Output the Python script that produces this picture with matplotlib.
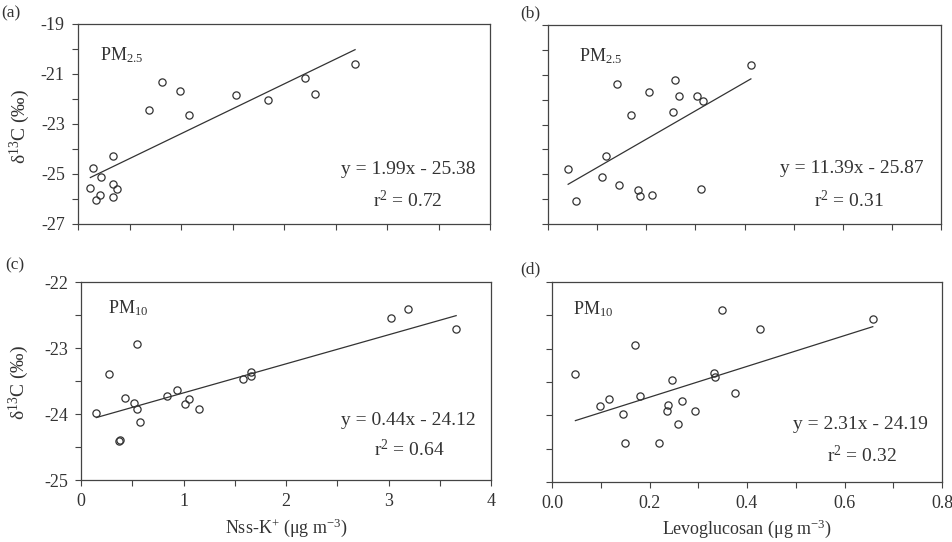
import numpy as np
import matplotlib
matplotlib.use("Agg")
import matplotlib.pyplot as plt
from matplotlib.ticker import FixedLocator, MultipleLocator, FormatStrFormatter, NullFormatter

plt.rcParams['font.family'] = ['Liberation Serif', 'DejaVu Serif']
plt.rcParams['mathtext.default'] = 'regular'
plt.rcParams['axes.unicode_minus'] = False

INK = '#333333'

# (a) PM2.5 vs nss-K+
a_x = [0.12, 0.15, 0.17, 0.21, 0.22, 0.34, 0.34, 0.34, 0.38, 0.69, 0.82, 0.99, 1.08, 1.53, 1.84, 2.20, 2.30, 2.69]
a_y = [-25.55, -24.77, -26.04, -25.84, -25.12, -24.28, -25.40, -25.91, -25.60, -22.43, -21.32, -21.67,
       -22.63, -21.85, -22.04, -21.17, -21.80, -20.59]
# (b) PM2.5 vs levoglucosan
b_x = [0.041, 0.056, 0.110, 0.118, 0.140, 0.145, 0.169, 0.183, 0.187, 0.206, 0.212, 0.254, 0.259, 0.266,
       0.303, 0.312, 0.316, 0.413]
b_y = [-24.77, -26.08, -25.12, -24.28, -21.36, -25.45, -22.63, -25.64, -25.89, -21.71, -25.84, -22.48,
       -21.21, -21.85, -21.85, -25.60, -22.04, -20.59]
# (c) PM10 vs nss-K+
c_x = [0.15, 0.27, 0.37, 0.38, 0.43, 0.52, 0.55, 0.55, 0.58, 0.84, 0.94, 1.01, 1.05, 1.15, 1.58, 1.66, 1.66,
       3.02, 3.19, 3.66]
c_y = [-23.98, -23.39, -24.41, -24.39, -23.76, -23.83, -22.94, -23.92, -24.12, -23.72, -23.64, -23.85,
       -23.77, -23.92, -23.47, -23.36, -23.42, -22.55, -22.41, -22.71]
# (d) PM10 vs levoglucosan
d_x = [0.048, 0.099, 0.116, 0.146, 0.149, 0.171, 0.181, 0.220, 0.235, 0.238, 0.246, 0.258, 0.266, 0.293,
       0.333, 0.335, 0.348, 0.376, 0.426, 0.658]
d_y = [-23.38, -23.86, -23.75, -23.98, -24.42, -22.94, -23.71, -24.42, -23.93, -23.84, -23.47, -24.13,
       -23.79, -23.93, -23.37, -23.42, -22.42, -23.66, -22.71, -22.56]

# fitted lines as printed on the chart
slopes = [1.99, 11.39, 0.44, 2.31]
intercepts = [-25.38, -25.87, -24.12, -24.19]
r2 = [0.72, 0.31, 0.64, 0.32]

panel_tags = ['(a)', '(b)', '(c)', '(d)']
size_tags = ['PM$_{2.5}$', 'PM$_{2.5}$', 'PM$_{10}$', 'PM$_{10}$']

W, H = 952, 542
fig = plt.figure(figsize=(W / 100, H / 100), dpi=100)


# pixel box -> figure fraction
def box(x0, y0, x1, y1):
    return [x0 / W, 1 - y1 / H, (x1 - x0) / W, (y1 - y0) / H]


def ftext(x, y, s, **kw):
    fig.text(x / W, 1 - y / H, s, color=INK, **kw)


axes = [fig.add_axes(box(78, 24, 490, 224)),
        fig.add_axes(box(548, 25, 941, 224)),
        fig.add_axes(box(81, 282, 491, 480)),
        fig.add_axes(box(552, 282, 942, 482))]

data = [(a_x, a_y), (b_x, b_y), (c_x, c_y), (d_x, d_y)]
eq_pos = [(0.966, 0.27, 0.80, 0.12), (0.957, 0.28, 0.766, 0.12),
          (0.963, 0.30, 0.80, 0.155), (0.964, 0.288, 0.795, 0.13)]
pm_pos = [(0.053, 0.845), (0.079, 0.845), (0.066, 0.87), (0.053, 0.862)]

for i, ax in enumerate(axes):
    x, y = np.asarray(data[i][0]), np.asarray(data[i][1])
    ax.plot(x, y, 'o', ms=5.2, mfc='none', mec=INK, mew=0.9, ls='none')
    xl = np.array([x.min(), x.max()])
    ax.plot(xl, slopes[i] * xl + intercepts[i], color=INK, lw=0.9)

    ex, ey, rx, ry = eq_pos[i]
    ax.text(ex, ey, 'y = %.2fx - %.2f' % (slopes[i], -intercepts[i]), transform=ax.transAxes,
            ha='right', va='center', fontsize=14, color=INK)
    ax.text(rx, ry, 'r$^{2}$ = %.2f' % r2[i], transform=ax.transAxes,
            ha='center', va='center', fontsize=14, color=INK)
    ax.text(pm_pos[i][0], pm_pos[i][1], size_tags[i], transform=ax.transAxes,
            ha='left', va='center', fontsize=13, color=INK)

    for s in ax.spines.values():
        s.set_color('#444444')
        s.set_linewidth(0.9)
    ax.tick_params(which='both', direction='out', length=4.5, width=0.8, color='#444444',
                   labelsize=13, labelcolor=INK, pad=5)

# top row: -27..-19
for ax in axes[:2]:
    ax.set_ylim(-27, -19)
    ax.yaxis.set_major_locator(FixedLocator(np.arange(-27, -18, 2)))
    ax.yaxis.set_minor_locator(MultipleLocator(1))
# bottom row: -25..-22
for ax in axes[2:]:
    ax.set_ylim(-25, -22)
    ax.yaxis.set_major_locator(MultipleLocator(1))
    ax.yaxis.set_minor_locator(MultipleLocator(0.5))

for ax in (axes[0], axes[2]):
    ax.set_xlim(0, 4)
    ax.xaxis.set_major_locator(MultipleLocator(1))
    ax.xaxis.set_minor_locator(MultipleLocator(0.5))
    ax.yaxis.set_major_formatter(FormatStrFormatter('%d'))
for ax in (axes[1], axes[3]):
    ax.set_xlim(0, 0.8)
    ax.xaxis.set_major_locator(MultipleLocator(0.2))
    ax.xaxis.set_minor_locator(MultipleLocator(0.1))
    ax.xaxis.set_major_formatter(FormatStrFormatter('%.1f'))
    ax.yaxis.set_major_formatter(NullFormatter())

axes[0].xaxis.set_major_formatter(NullFormatter())
axes[1].xaxis.set_major_formatter(NullFormatter())
axes[2].xaxis.set_major_formatter(FormatStrFormatter('%d'))

# panel tags and axis titles
ftext(11, 13, panel_tags[0], ha='center', va='center', fontsize=12.5)
ftext(530, 13, panel_tags[1], ha='center', va='center', fontsize=12.5)
ftext(15, 265, panel_tags[2], ha='center', va='center', fontsize=12.5)
ftext(530, 269, panel_tags[3], ha='center', va='center', fontsize=12.5)

ylab = 'δ$^{13}$C (‰)'
ftext(20, 126, ylab, ha='center', va='center', rotation=90, fontsize=14)
ftext(19, 382, ylab, ha='center', va='center', rotation=90, fontsize=14)
ftext(286, 528, 'Nss-K$^{+}$ (μg m$^{\u22123}$)', ha='center', va='center', fontsize=13)
ftext(747, 529, 'Levoglucosan (μg m$^{\u22123}$)', ha='center', va='center', fontsize=13)

fig.savefig('out.png', dpi=100, facecolor='white')
